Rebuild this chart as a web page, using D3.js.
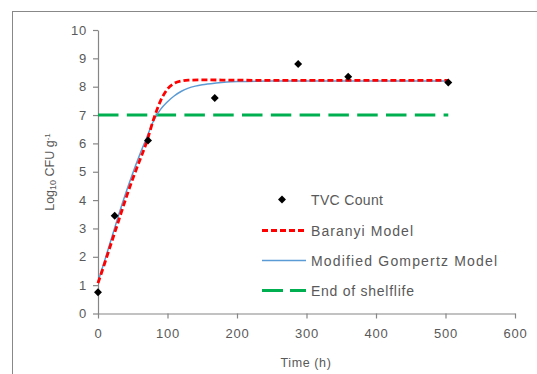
<!DOCTYPE html>
<html>
<head>
<meta charset="utf-8">
<script src="https://cdn.jsdelivr.net/npm/d3@7"></script>
<style>
  body { margin: 0; background: #fff; }
  text { font-family: "Liberation Sans", Arial, sans-serif; fill: #595959; }
</style>
</head>
<body>
<div id="chart"></div>
<script>
// observed counts
var tvcTime = [0, 24, 72, 168, 288, 360, 504];
var tvcLog = [0.75, 3.45, 6.1, 7.6, 8.8, 8.35, 8.15];

// fitted curves
var baranyiTime = [0, 10, 20, 30, 40, 50, 60, 70, 80, 90, 100, 110, 120, 130, 150, 200, 300, 504];
var baranyiLog = [1.07, 1.8, 2.55, 3.3, 4.05, 4.75, 5.4, 6.05, 6.85, 7.5, 7.92, 8.12, 8.2, 8.23, 8.24, 8.23, 8.22, 8.22];
var gompTime = [0, 10, 20, 30, 40, 50, 60, 70, 80, 90, 100, 110, 120, 130, 140, 150, 170, 200, 250, 504];
var gompLog = [1.12, 1.9, 2.7, 3.5, 4.25, 4.95, 5.6, 6.2, 6.8, 7.2, 7.47, 7.68, 7.84, 7.95, 8.02, 8.07, 8.13, 8.18, 8.2, 8.2];

var shelfTime = [0, 504];
var shelfLog = [7, 7];

var xTicks = [0, 100, 200, 300, 400, 500, 600];
var yTicks = [0, 1, 2, 3, 4, 5, 6, 7, 8, 9, 10];

var legendNames = ["TVC Count", "Baranyi Model", "Modified Gompertz Model", "End of shelflife"];

var W = 537, H = 374;
var svg = d3.select("#chart").append("svg")
    .attr("width", W).attr("height", H);

// chart area border (right and bottom fall outside the picture)
svg.append("rect")
    .attr("x", 12.5).attr("y", 11.5)
    .attr("width", 540).attr("height", 380)
    .attr("fill", "none").attr("stroke", "#888").attr("stroke-width", 1);

var x = d3.scaleLinear().domain([0, 600]).range([98, 515]);
var y = d3.scaleLinear().domain([0, 10]).range([313.5, 30]);

// axes
var axisColor = "#868686";
var gx = svg.append("g").attr("transform", "translate(0," + y(0) + ")")
    .call(d3.axisBottom(x).tickValues(xTicks).tickSize(5).tickSizeOuter(0).tickPadding(10));
var gy = svg.append("g").attr("transform", "translate(" + x(0) + ",0)")
    .call(d3.axisLeft(y).tickValues(yTicks).tickSize(5).tickSizeOuter(0).tickPadding(6));
[gx, gy].forEach(function(g) {
    g.select(".domain").attr("stroke", axisColor).attr("stroke-width", 1.2);
    g.selectAll(".tick line").attr("stroke", axisColor).attr("stroke-width", 1.2);
    g.selectAll(".tick text")
        .style("font-family", "'Liberation Sans', Arial, sans-serif")
        .style("font-size", "13px").style("letter-spacing", "0.8px")
        .attr("fill", "#595959");
});

// axis titles
svg.append("text")
    .attr("x", 306).attr("y", 367)
    .attr("text-anchor", "middle")
    .style("font-size", "12.5px").style("letter-spacing", "0.6px")
    .text("Time (h)");

var yt = svg.append("text")
    .attr("transform", "translate(54,172) rotate(-90)")
    .attr("text-anchor", "middle")
    .style("font-size", "12.5px");
yt.append("tspan").text("Log");
yt.append("tspan").attr("baseline-shift", "-25%").style("font-size", "9px").text("10");
yt.append("tspan").text(" CFU g");
yt.append("tspan").attr("baseline-shift", "55%").style("font-size", "8px").text("-1");

// lines
var line = d3.line()
    .x(function(d) { return x(d[0]); })
    .y(function(d) { return y(d[1]); })
    .curve(d3.curveMonotoneX);

var shelf = d3.zip(shelfTime, shelfLog);
var gomp = d3.zip(gompTime, gompLog);
var baranyi = d3.zip(baranyiTime, baranyiLog);

svg.append("path").datum(shelf).attr("d", line)
    .attr("fill", "none").attr("stroke", "#00b050").attr("stroke-width", 3)
    .attr("stroke-dasharray", "20.5,8.3");

svg.append("path").datum(gomp).attr("d", line)
    .attr("fill", "none").attr("stroke", "#5b9bd5").attr("stroke-width", 1.5);

svg.append("path").datum(baranyi).attr("d", line)
    .attr("fill", "none").attr("stroke", "#ff0000").attr("stroke-width", 2.8)
    .attr("stroke-dasharray", "6,3");

// markers
var diamond = d3.symbol().type(d3.symbolDiamond2).size(40);
svg.append("g").selectAll("path")
    .data(d3.zip(tvcTime, tvcLog))
    .enter().append("path")
    .attr("d", diamond)
    .attr("transform", function(d) { return "translate(" + x(d[0]) + "," + y(d[1]) + ")"; })
    .attr("fill", "#000");

// legend
var legY = [199.5, 230.5, 260.5, 290.5];
var legLen = [72, 102, 186, 103];
var leg = svg.append("g");
leg.append("path").attr("d", diamond)
    .attr("transform", "translate(282," + legY[0] + ")").attr("fill", "#000");
leg.append("line").attr("x1", 262).attr("x2", 306).attr("y1", legY[1]).attr("y2", legY[1])
    .attr("stroke", "#ff0000").attr("stroke-width", 2.8).attr("stroke-dasharray", "6,3");
leg.append("line").attr("x1", 262).attr("x2", 306).attr("y1", legY[2]).attr("y2", legY[2])
    .attr("stroke", "#5b9bd5").attr("stroke-width", 1.5);
leg.append("line").attr("x1", 262).attr("x2", 306).attr("y1", legY[3]).attr("y2", legY[3])
    .attr("stroke", "#00b050").attr("stroke-width", 3).attr("stroke-dasharray", "21,7");
leg.selectAll("text.lg").data(legendNames).enter().append("text")
    .attr("class", "lg")
    .attr("x", 311)
    .attr("y", function(d, i) { return legY[i] + 5; })
    .attr("textLength", function(d, i) { return legLen[i]; })
    .attr("lengthAdjust", "spacing")
    .style("font-size", "14px")
    .text(function(d) { return d; });
</script>
</body>
</html>
